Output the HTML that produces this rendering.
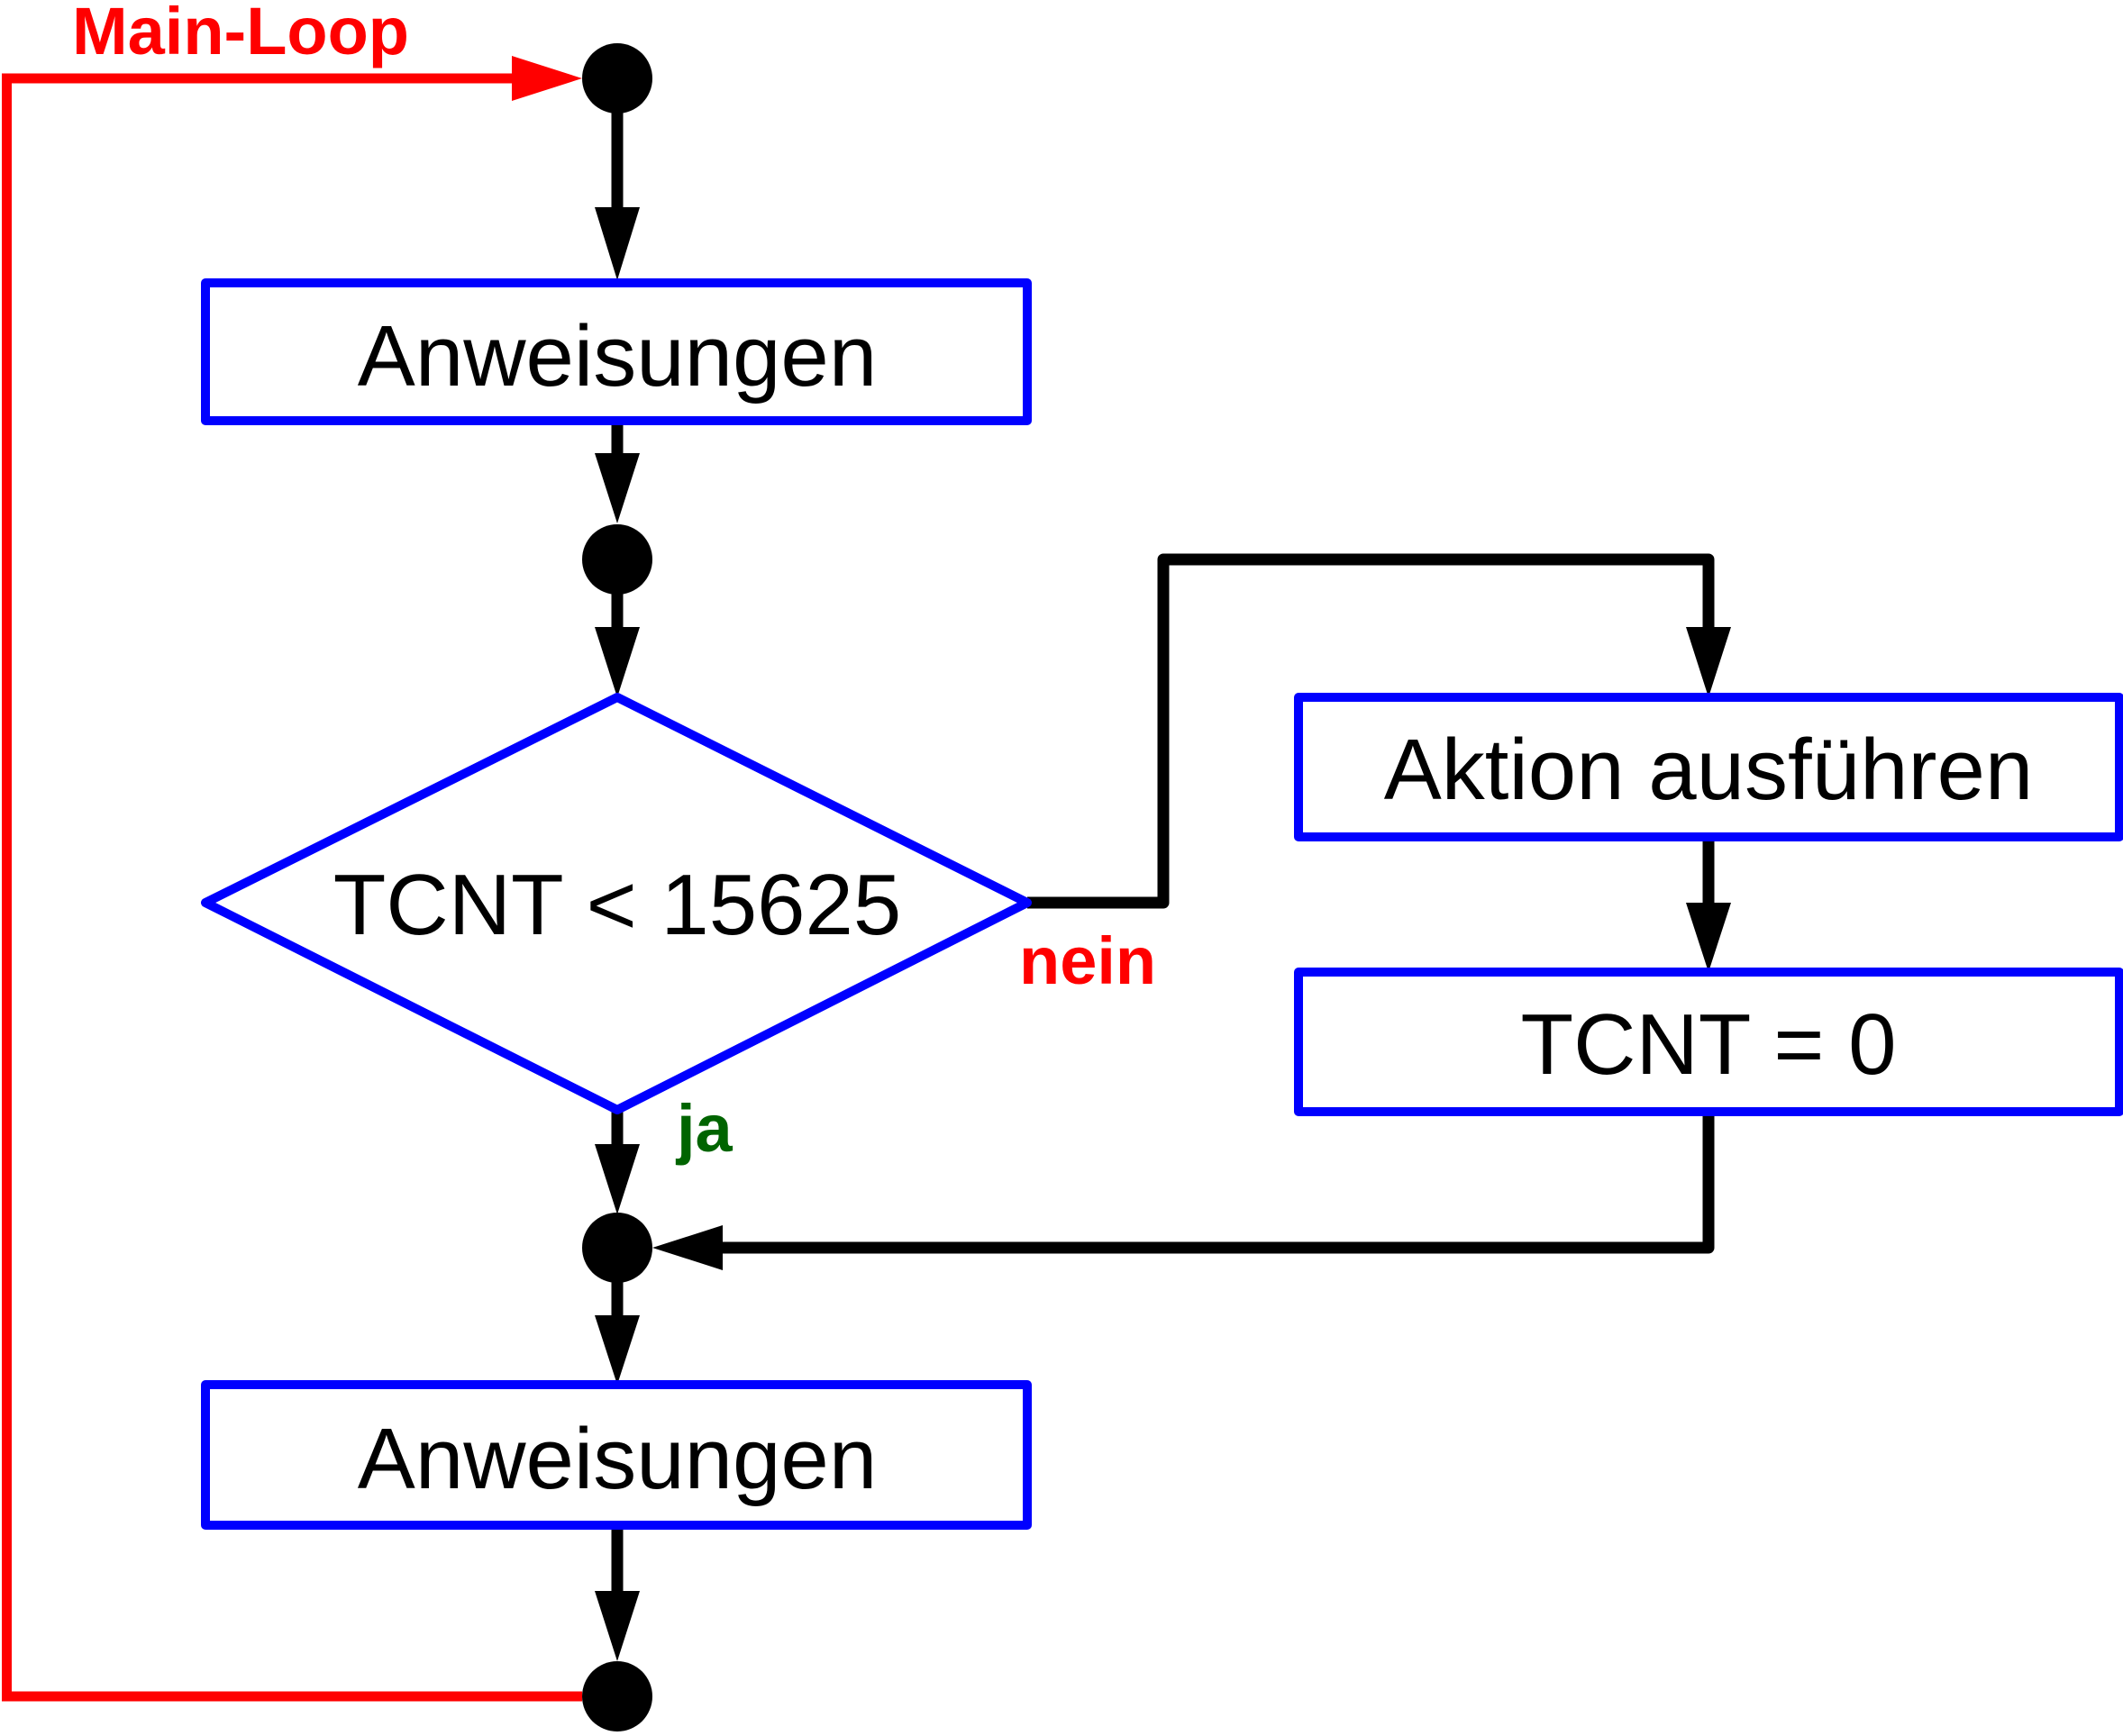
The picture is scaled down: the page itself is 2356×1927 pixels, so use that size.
<!DOCTYPE html>
<html><head><meta charset="utf-8"><style>html,body{margin:0;padding:0;background:#fff}svg{display:block}</style></head>
<body>
<svg width="2356" height="1927" viewBox="0 0 2356 1927" xmlns="http://www.w3.org/2000/svg">
<rect width="2356" height="1927" fill="#fff"/>
<polyline points="646,1883 7.5,1883 7.5,87 575,87" fill="none" stroke="#f00" stroke-width="11"/>
<polygon points="568,62 646,87 568,112" fill="#f00"/>
<text x="80" y="60" font-family="Liberation Sans, sans-serif" font-weight="bold" font-size="74" fill="#f00">Main-Loop</text>
<g stroke="#000" stroke-width="13" fill="none" stroke-linejoin="round">
<line x1="685" y1="87" x2="685" y2="235"/>
<line x1="685" y1="467" x2="685" y2="508"/>
<line x1="685" y1="621" x2="685" y2="700"/>
<line x1="685" y1="1232" x2="685" y2="1280"/>
<line x1="685" y1="1385" x2="685" y2="1465"/>
<line x1="685" y1="1693" x2="685" y2="1770"/>
<polyline points="1140,1002 1291,1002 1291,621 1896,621 1896,700"/>
<line x1="1896" y1="929" x2="1896" y2="1006"/>
<polyline points="1896,1234 1896,1385 795,1385"/>
</g>
<g fill="#000">
<polygon points="660,230 710,230 685,311"/>
<polygon points="660,503 710,503 685,581"/>
<polygon points="660,696 710,696 685,774"/>
<polygon points="1871,696 1921,696 1896,774"/>
<polygon points="1871,1002 1921,1002 1896,1079"/>
<polygon points="802,1360 802,1410 724,1385"/>
<polygon points="660,1270 710,1270 685,1348"/>
<polygon points="660,1460 710,1460 685,1537"/>
<polygon points="660,1766 710,1766 685,1844"/>
<circle cx="685" cy="87" r="39"/>
<circle cx="685" cy="621" r="39"/>
<circle cx="685" cy="1385" r="39"/>
<circle cx="685" cy="1883" r="39"/>
</g>
<g fill="#fff" stroke="#00f" stroke-width="10" stroke-linejoin="round">
<rect x="228" y="314" width="912" height="153"/>
<polygon points="685,774 1140,1002 685,1232 228,1002"/>
<rect x="1441" y="774" width="911" height="155"/>
<rect x="1441" y="1079" width="911" height="155"/>
<rect x="228" y="1537" width="912" height="156"/>
</g>
<g font-family="Liberation Sans, sans-serif" font-size="96" fill="#000" text-anchor="middle">
<text x="685" y="428">Anweisungen</text>
<text x="685" y="1037">TCNT &lt; 15625</text>
<text x="1896" y="887">Aktion ausführen</text>
<text x="1896" y="1192">TCNT = 0</text>
<text x="685" y="1652">Anweisungen</text>
</g>
<text x="1131" y="1092" font-family="Liberation Sans, sans-serif" font-weight="bold" font-size="74" fill="#f00">nein</text>
<text x="751" y="1278" font-family="Liberation Sans, sans-serif" font-weight="bold" font-size="74" fill="#006400">ja</text>
</svg>
</body></html>
